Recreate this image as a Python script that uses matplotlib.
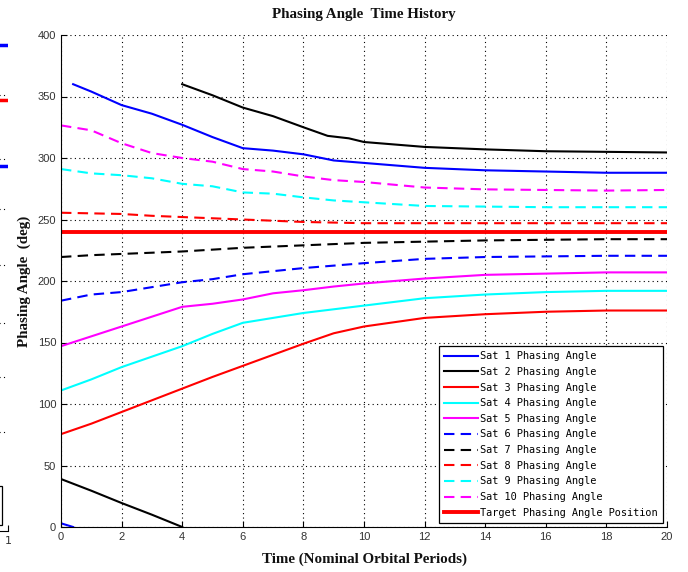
import numpy as np
import matplotlib
matplotlib.use('Agg')
import matplotlib.pyplot as plt
from matplotlib.patches import Rectangle

nan = np.nan

# time grid (nominal orbital periods) shared by most series
t_std = [0, 1, 2, 3, 4, 5, 6, 7, 8, 9, 10, 12, 14, 16, 18, 20]

# sat 1 and sat 2 wrap through 0/360, so they carry a NaN break
t_sat1 = [0, 0.4, nan, 0.4, 1, 2, 3, 4, 5, 6, 7, 8, 9, 10, 12, 14, 16, 18, 20]
sat1 = [3, 0, nan, 360, 354, 343, 336, 327, 317, 308, 306, 303, 298, 296, 292, 290, 289, 288, 288]

t_sat2 = [0, 1, 2, 3, 4, nan, 4, 5, 6, 7, 8, 8.8, 9.5, 10, 12, 14, 16, 18, 20]
sat2 = [39, 29.5, 19.5, 10, 0, nan, 360, 351, 341, 334, 325, 318, 316, 313, 309, 307, 305.5, 305, 304.5]

sat3 = [75.5, 84, 93.5, 103, 112.5, 122, 131, 140, 149, 157.5, 163, 170, 173, 175, 176, 176]
sat4 = [111, 120, 130, 138.5, 147, 157, 166, 170, 174, 177, 180, 186, 189, 191, 192, 192]
sat5 = [147, 155, 163, 171, 179, 181.5, 185, 190, 192.5, 195.5, 198, 202, 205, 206, 207, 207]
sat6 = [184, 189, 191, 195, 199, 201.5, 205.5, 208, 210.5, 212.5, 214.5, 218, 219.5, 220, 220.5, 220.5]
sat7 = [219.5, 221, 222, 223, 224, 225.5, 227, 228, 229, 230, 231, 232, 233, 233.5, 234, 234]
sat8 = [255.5, 255, 254.5, 253, 252, 251, 250, 249, 248, 247.5, 247, 247, 247, 247, 247, 247]
sat9 = [291, 287.5, 286, 283.5, 279, 277, 272, 271, 268, 265.5, 264, 261, 260.5, 260, 260, 260]
sat10 = [326.5, 322.5, 312, 304, 300, 297, 291, 289, 285, 282, 280.5, 276, 274.5, 274, 273.5, 274]

target_angle = 240

labels = ['Sat 1 Phasing Angle', 'Sat 2 Phasing Angle', 'Sat 3 Phasing Angle',
          'Sat 4 Phasing Angle', 'Sat 5 Phasing Angle', 'Sat 6 Phasing Angle',
          'Sat 7 Phasing Angle', 'Sat 8 Phasing Angle', 'Sat 9 Phasing Angle',
          'Sat 10 Phasing Angle']
x_ticks = [0, 2, 4, 6, 8, 10, 12, 14, 16, 18, 20]
y_ticks = [0, 50, 100, 150, 200, 250, 300, 350, 400]

# clipped neighbour plot visible at the left edge of the screenshot
frag_grid = [0.20, 0.31, 0.42, 0.536, 0.65, 0.75, 0.88]
frag_lines = [0.98, 0.868, 0.736]
frag_colors = ['#0000ff', '#ff0000', '#0000ff']

fig = plt.figure(figsize=(6.88, 5.72), dpi=100)
ax = fig.add_axes([61 / 688, 45 / 572, 606 / 688, 492 / 572])

dash = (0, (5, 3))
series = [
    (t_sat1, sat1, '#0000ff', '-'),
    (t_sat2, sat2, '#000000', '-'),
    (t_std, sat3, '#ff0000', '-'),
    (t_std, sat4, '#00ffff', '-'),
    (t_std, sat5, '#ff00ff', '-'),
    (t_std, sat6, '#0000ff', dash),
    (t_std, sat7, '#000000', dash),
    (t_std, sat8, '#ff0000', dash),
    (t_std, sat9, '#00ffff', dash),
    (t_std, sat10, '#ff00ff', dash),
]
for (tt, yy, c, ls), lab in zip(series, labels):
    ax.plot(tt, yy, color=c, linestyle=ls, lw=1.5, label=lab)
ax.plot([0, 20], [target_angle, target_angle], color='#ff0000', lw=2.8,
        label='Target Phasing Angle Position')

ax.set_xlim(0, 20)
ax.set_ylim(0, 400)
ax.set_xticks(x_ticks)
ax.set_yticks(y_ticks)
ax.grid(True, color='black', linestyle=(0, (1, 3)), lw=0.8)
ax.spines['top'].set_visible(False)
ax.spines['right'].set_visible(False)
ax.tick_params(direction='in', length=4, labelsize=8, labelcolor='#333333',
               top=False, right=False)
for lab in ax.get_xticklabels() + ax.get_yticklabels():
    lab.set_fontfamily('Liberation Sans')

serif = 'Liberation Serif'
ax.set_title('Phasing Angle  Time History', fontsize=10.8, fontweight='bold',
             family=serif, pad=12, color='#111111')
ax.set_xlabel('Time (Nominal Orbital Periods)', fontsize=10.8, fontweight='bold',
              family=serif, labelpad=8, color='#111111')
ax.set_ylabel('Phasing Angle  (deg)', fontsize=10.8, fontweight='bold',
              family=serif, labelpad=5, color='#111111')

leg = ax.legend(loc='lower right', prop={'family': 'DejaVu Sans Mono', 'size': 7.4},
                handlelength=3.3, handletextpad=0.25, labelspacing=0.55,
                borderpad=0.5, borderaxespad=0.4, fancybox=False, framealpha=1)
leg.get_frame().set_edgecolor('black')
leg.get_frame().set_linewidth(0.9)

# fragment of the neighbouring figure on the far left
fx = fig.add_axes([-0.2, 41 / 572, 0.2 + 8 / 688, 496 / 572])
fx.set_xlim(0, 1)
fx.set_ylim(0, 1)
for g in frag_grid:
    fx.plot([0, 1], [g, g], color='black', linestyle=(0, (1, 3)), lw=0.8)
for y, c in zip(frag_lines, frag_colors):
    fx.plot([0.8, 1], [y, y], color=c, lw=2.5)
fx.add_patch(Rectangle((0.5, 0.012), 0.46, 0.078, fill=False, edgecolor='black', lw=0.9))
for s in ['top', 'right', 'left']:
    fx.spines[s].set_visible(False)
fx.set_yticks([])
fx.set_xticks([1])
fx.set_xticklabels(['1'])
fx.tick_params(direction='in', length=4, labelsize=8, labelcolor='#333333')

fig.savefig('out.png', dpi=100)
